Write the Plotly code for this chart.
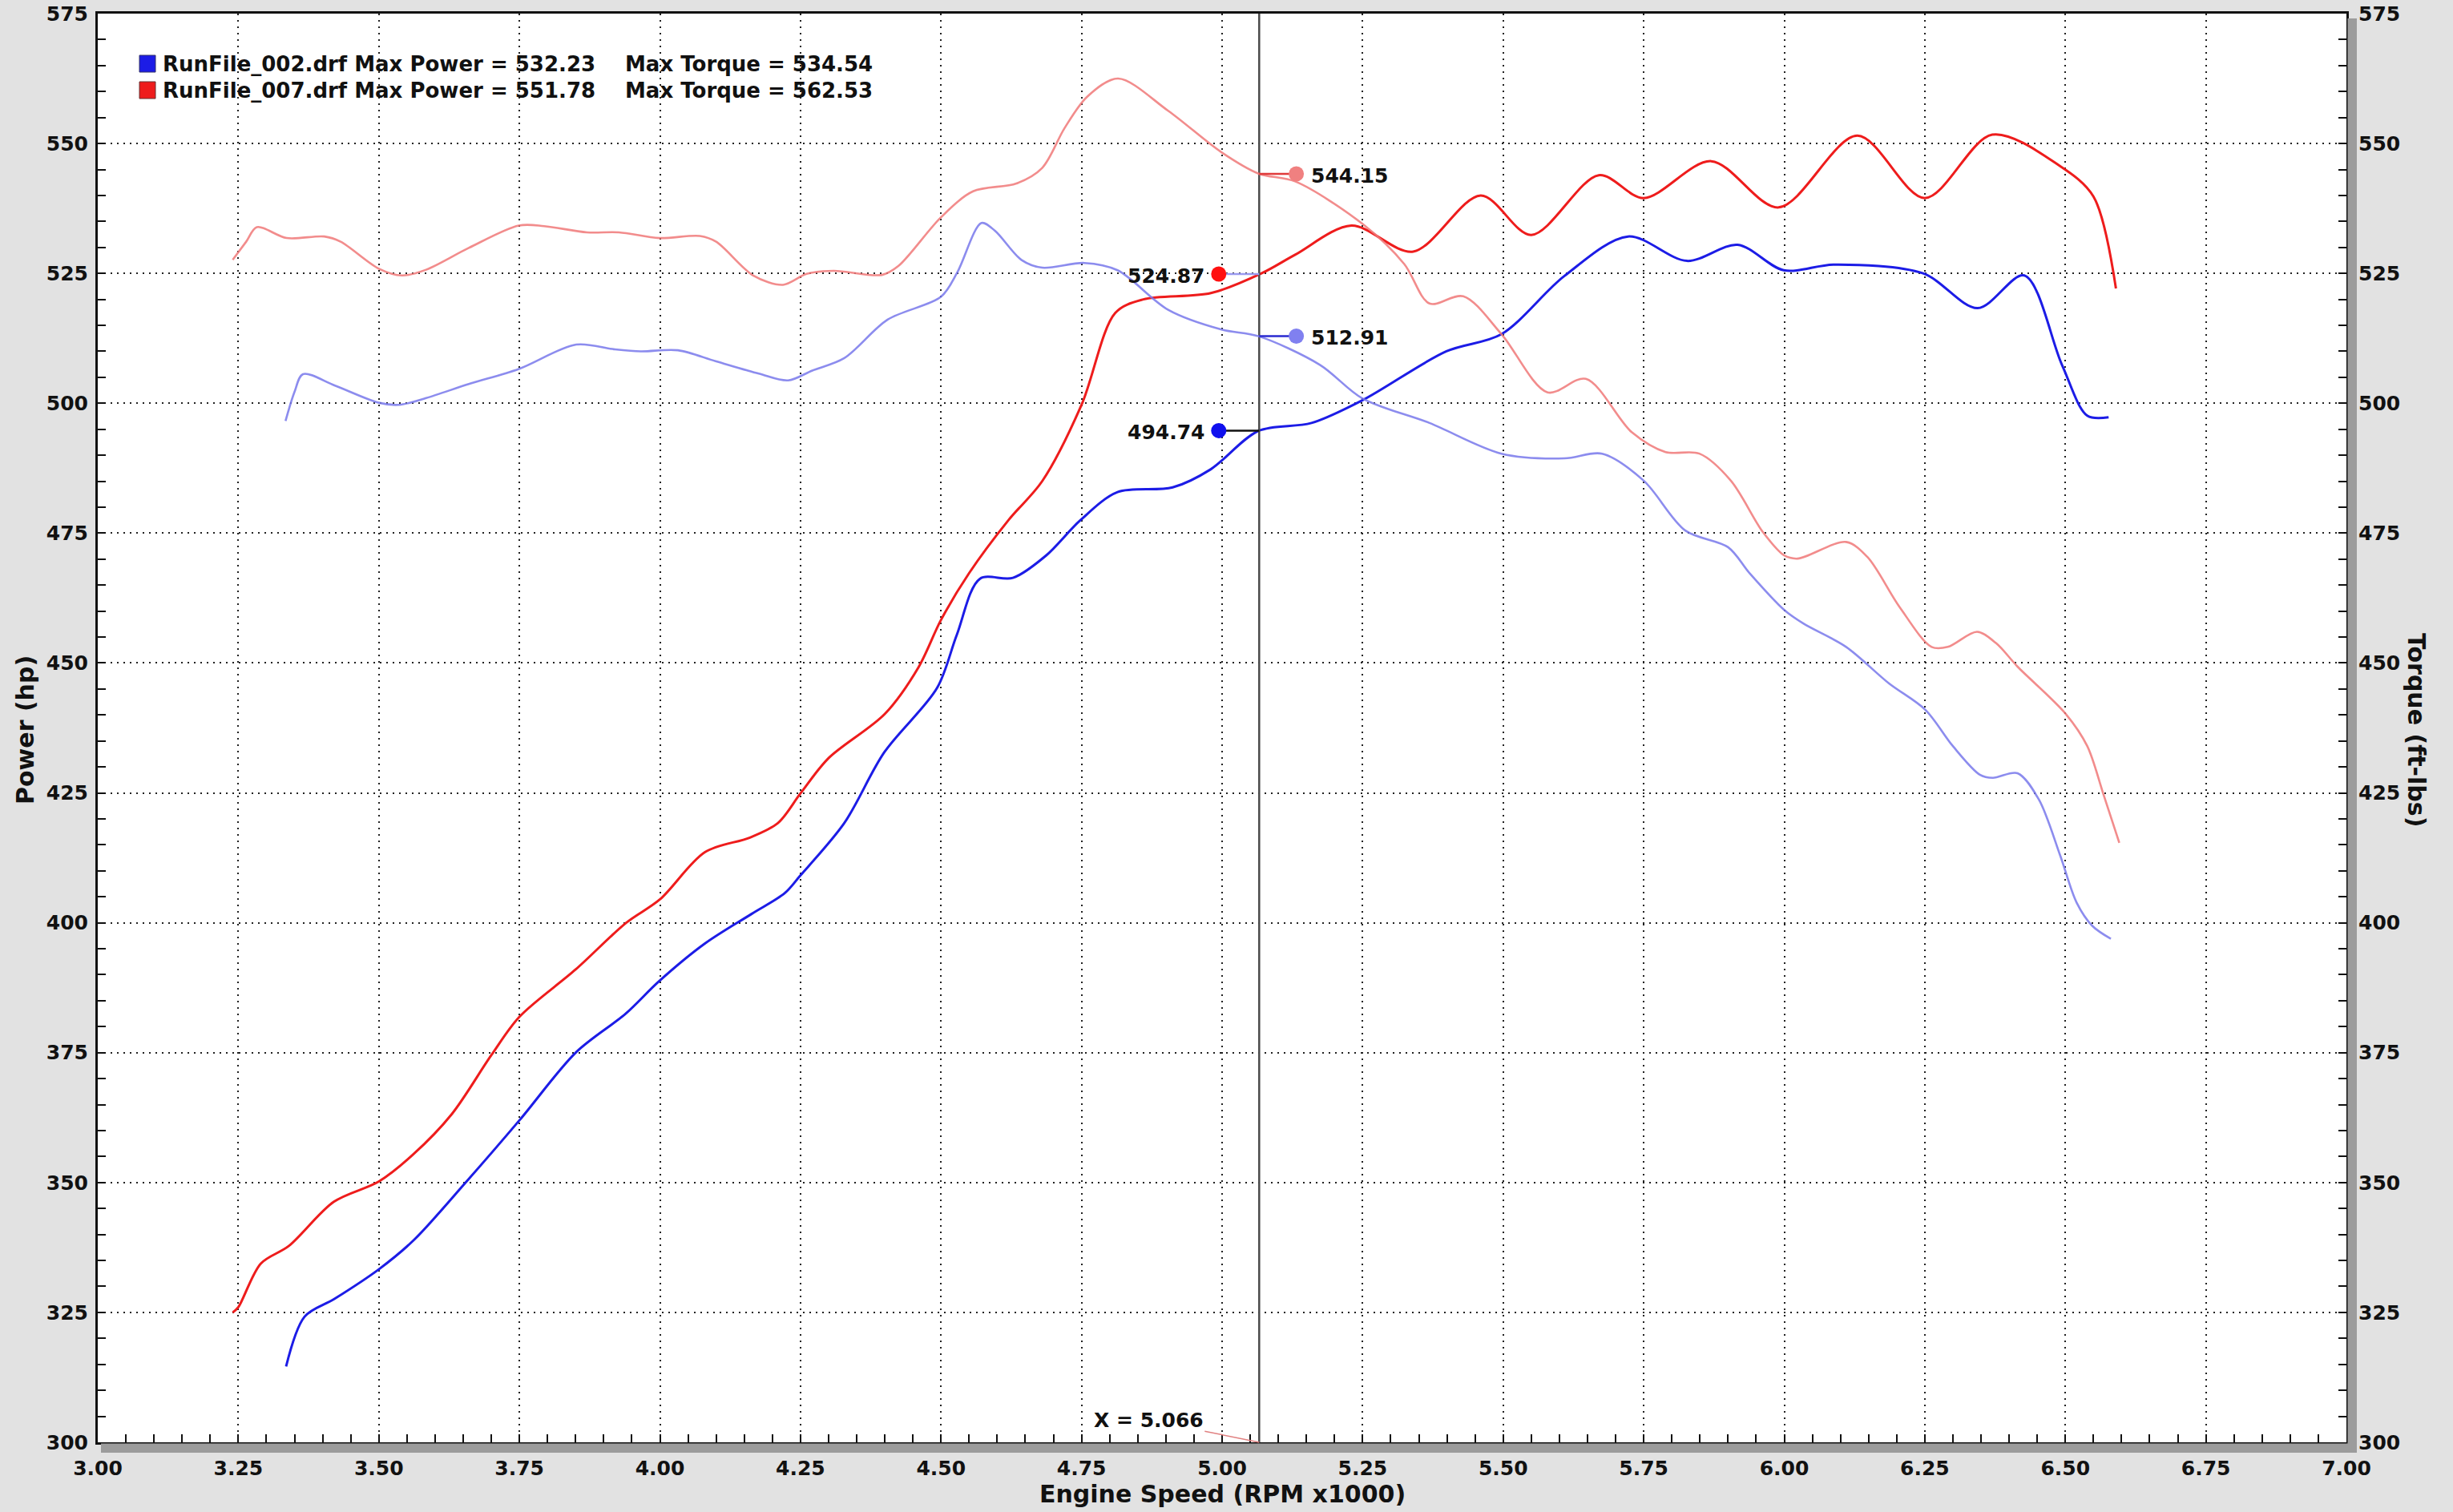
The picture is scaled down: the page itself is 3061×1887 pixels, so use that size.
import plotly.graph_objects as go

# ---------------- data ----------------
# RunFile_007 power (hp)
rpm_p007 = [3.24, 3.25, 3.29, 3.34, 3.42, 3.50, 3.56, 3.63, 3.70, 3.75, 3.85, 3.94, 4.00, 4.08,
            4.16, 4.21, 4.25, 4.30, 4.40, 4.46, 4.50, 4.55, 4.62, 4.68, 4.75, 4.81, 4.86, 4.98,
            5.07, 5.13, 5.23, 5.34, 5.46, 5.55, 5.67, 5.75, 5.87, 5.99, 6.13, 6.25, 6.37, 6.49,
            6.55, 6.59]
hp_007 = [325.0, 326.0, 334.4, 337.8, 346.3, 350.2, 355.3, 363.2, 374.5, 381.9, 391.0, 400.0,
          404.5, 413.6, 416.4, 419.2, 424.9, 431.7, 440.2, 449.2, 458.3, 467.3, 477.5, 485.0,
          499.7, 517.4, 520.0, 521.2, 525.0, 528.6, 534.2, 529.2, 540.0, 532.4, 543.9, 539.5,
          546.6, 537.7, 551.5, 539.5, 551.7, 545.7, 539.8, 522.1]

# RunFile_002 power (hp)
rpm_p002 = [3.335, 3.368, 3.421, 3.50, 3.562, 3.656, 3.751, 3.851, 3.939, 3.998, 4.08, 4.163,
            4.222, 4.249, 4.328, 4.399, 4.493, 4.528, 4.569, 4.628, 4.687, 4.748, 4.814, 4.912,
            4.98, 5.065, 5.159, 5.25, 5.399, 5.497, 5.609, 5.722, 5.827, 5.917, 5.999, 6.089,
            6.247, 6.344, 6.427, 6.494, 6.539, 6.577]
hp_002 = [314.6, 324.2, 327.6, 333.3, 338.9, 350.2, 362.1, 375.1, 382.5, 388.7, 396.0, 401.7,
          405.7, 409.0, 419.2, 432.8, 445.2, 455.4, 466.2, 466.4, 470.7, 477.5, 482.9, 483.8,
          487.3, 494.7, 496.2, 500.6, 510.0, 513.3, 524.5, 532.1, 527.4, 530.5, 525.6, 526.7,
          525.0, 518.3, 524.6, 507.4, 497.6, 497.3]

# RunFile_007 torque (ft-lbs)
rpm_t007 = [3.24, 3.264, 3.283, 3.336, 3.403, 3.432, 3.50, 3.541, 3.584, 3.66, 3.749, 3.794,
            3.87, 3.927, 3.999, 4.071, 4.10, 4.166, 4.219, 4.261, 4.309, 4.395, 4.424, 4.50,
            4.557, 4.634, 4.68, 4.72, 4.76, 4.815, 4.904, 4.999, 5.065, 5.13, 5.25, 5.324,
            5.369, 5.429, 5.497, 5.579, 5.647, 5.729, 5.789, 5.849, 5.905, 5.962, 6.0, 6.024,
            6.11, 6.148, 6.205, 6.262, 6.291, 6.343, 6.377, 6.415, 6.5, 6.539, 6.567, 6.596]
tq_007 = [527.6, 531.1, 533.9, 531.8, 532.1, 531.1, 525.9, 524.6, 525.7, 529.9, 534.2, 534.1,
          532.9, 532.9, 531.8, 532.2, 531.1, 524.6, 522.8, 524.9, 525.5, 524.7, 526.4, 535.8,
          540.8, 542.3, 545.3, 553.0, 559.0, 562.5, 556.3, 548.3, 544.2, 542.7, 534.5, 526.8,
          519.2, 520.6, 513.3, 502.1, 504.7, 494.4, 490.6, 490.3, 485.1, 475.2, 470.7, 470.1,
          473.3, 470.4, 460.8, 453.1, 453.1, 456.0, 453.8, 449.3, 440.3, 434.0, 425.0, 415.4]

# RunFile_002 torque (ft-lbs)
rpm_t002 = [3.334, 3.35, 3.365, 3.422, 3.50, 3.536, 3.584, 3.66, 3.749, 3.851, 3.918, 3.966,
            4.032, 4.099, 4.176, 4.228, 4.271, 4.328, 4.405, 4.50, 4.529, 4.572, 4.596, 4.643,
            4.68, 4.755, 4.814, 4.904, 4.999, 5.065, 5.174, 5.25, 5.369, 5.497, 5.609, 5.676,
            5.75, 5.824, 5.9, 5.939, 6.0, 6.034, 6.11, 6.186, 6.251, 6.30, 6.348, 6.371, 6.415,
            6.453, 6.491, 6.52, 6.548, 6.581]
tq_002 = [496.6, 502.2, 505.6, 503.4, 500.1, 499.7, 501.0, 503.7, 506.6, 511.3, 510.4, 510.0,
          510.2, 508.1, 505.7, 504.4, 506.3, 508.7, 516.1, 520.5, 525.2, 534.7, 533.2, 527.6,
          526.1, 527.0, 525.6, 518.0, 514.2, 512.9, 507.4, 500.9, 496.2, 490.3, 489.4, 490.3,
          485.1, 475.5, 472.3, 467.2, 460.2, 457.6, 453.1, 446.1, 441.0, 434.0, 428.5, 427.9,
          428.8, 423.7, 412.9, 403.9, 399.4, 396.9]

# cursor readouts
cursor_rpm = 5.066
readout_values = [544.15, 524.87, 512.91, 494.74]   # 007 torque, 007 power, 002 torque, 002 power

# legend texts
legend_files = ["RunFile_002.drf", "RunFile_007.drf"]
legend_max_power = [532.23, 551.78]
legend_max_torque = [534.54, 562.53]

# ticks
x_ticks = [3.00, 3.25, 3.50, 3.75, 4.00, 4.25, 4.50, 4.75, 5.00, 5.25, 5.50, 5.75, 6.00,
           6.25, 6.50, 6.75, 7.00]
y_ticks = [300, 325, 350, 375, 400, 425, 450, 475, 500, 525, 550, 575]

# ---------------- style ----------------
FONT = "DejaVu Sans"
C_P007 = "#ee1c1c"
C_P002 = "#1c1ce6"
C_T007 = "rgba(240,120,120,0.85)"
C_T002 = "rgba(120,120,235,0.85)"
W, H = 3061, 1887
ML, MR, MT, MB = 122, 133, 17, 87
PW, PH = W - ML - MR, H - MT - MB

fig = go.Figure()

# torque (right axis), drawn first (lighter)
fig.add_trace(go.Scatter(x=rpm_t007, y=tq_007, yaxis="y2", mode="lines",
                         line=dict(color=C_T007, width=2.6, shape="spline", smoothing=0.9)))
fig.add_trace(go.Scatter(x=rpm_t002, y=tq_002, yaxis="y2", mode="lines",
                         line=dict(color=C_T002, width=2.6, shape="spline", smoothing=0.9)))
# power (left axis)
fig.add_trace(go.Scatter(x=rpm_p007, y=hp_007, mode="lines",
                         line=dict(color=C_P007, width=3, shape="spline", smoothing=0.9)))
fig.add_trace(go.Scatter(x=rpm_p002, y=hp_002, mode="lines",
                         line=dict(color=C_P002, width=3, shape="spline", smoothing=0.9)))

# cursor line
fig.add_trace(go.Scatter(x=[cursor_rpm, cursor_rpm], y=[y_ticks[0], y_ticks[-1]], mode="lines",
                         line=dict(color="#4a4a4a", width=2.5)))

# readouts: (dot offset in rpm, connector colour, dot colour, axis, label side)
readout_style = [
    (0.066, "#e03a3a", "#f08080", "y2", "right"),
    (-0.072, "#9a9af0", "#ff1010", "y", "left"),
    (0.066, "#2a2ad0", "#8080f0", "y2", "right"),
    (-0.072, "#111111", "#1010ee", "y", "left"),
]
for val, (dx, lc, dc, ax, side) in zip(readout_values, readout_style):
    xd = cursor_rpm + dx
    fig.add_trace(go.Scatter(x=[cursor_rpm, xd], y=[val, val], yaxis=ax, mode="lines",
                             line=dict(color=lc, width=2.5)))
    fig.add_trace(go.Scatter(x=[xd], y=[val], yaxis=ax, mode="markers",
                             marker=dict(color=dc, size=19, line=dict(width=0))))
    fig.add_annotation(x=xd, y=val, yref=ax, text=f"{val:.2f}", showarrow=False,
                       xanchor="left" if side == "right" else "right",
                       xshift=16 if side == "right" else -16, yshift=-2,
                       font=dict(family=FONT, size=25, color="#111111", weight="bold"))

# X = cursor annotation
fig.add_annotation(x=cursor_rpm, y=y_ticks[0], text=f"X = {cursor_rpm:.3f}",
                   showarrow=True, arrowhead=0, arrowwidth=1.5, arrowcolor="#e08080",
                   ax=-138, ay=-28, standoff=0,
                   font=dict(family=FONT, size=25, color="#111111", weight="bold"))

# legend (annotations + icon shapes)
for i, (fname, mp, mt, col) in enumerate(zip(legend_files, legend_max_power, legend_max_torque,
                                             [C_P002, C_P007])):
    ypix = 80 + 33 * i
    yp = (H - MB - ypix) / PH
    fig.add_annotation(xref="paper", yref="paper", x=(201 - ML) / PW, y=yp,
                       text=f"{fname} Max Power = {mp:.2f}", showarrow=False,
                       xanchor="left", yanchor="middle",
                       font=dict(family=FONT, size=26, color="#111111", weight="bold"))
    fig.add_annotation(xref="paper", yref="paper", x=(778 - ML) / PW, y=yp,
                       text=f"Max Torque = {mt:.2f}", showarrow=False,
                       xanchor="left", yanchor="middle",
                       font=dict(family=FONT, size=26, color="#111111", weight="bold"))
    fig.add_shape(type="rect", xref="paper", yref="paper",
                  x0=(174 - ML) / PW, x1=(194 - ML) / PW,
                  y0=yp - 10 / PH, y1=yp + 11 / PH,
                  fillcolor=col, line=dict(width=1, color="#333366" if i == 0 else "#663333"))

# axis titles
fig.add_annotation(xref="paper", yref="paper", x=0.5, y=-(1865 - (H - MB)) / PH,
                   text="Engine Speed (RPM x1000)", showarrow=False, yanchor="middle",
                   font=dict(family=FONT, size=30, color="#111111", weight="bold"))
fig.add_annotation(xref="paper", yref="paper", x=-(ML - 31) / PW, y=(H - MB - 911) / PH,
                   text="Power (hp)", showarrow=False, textangle=-90,
                   xanchor="center", yanchor="middle",
                   font=dict(family=FONT, size=30, color="#111111", weight="bold"))
fig.add_annotation(xref="paper", yref="paper", x=1 + (3016 - ML - PW) / PW, y=(H - MB - 911) / PH,
                   text="Torque (ft-lbs)", showarrow=False, textangle=90,
                   xanchor="center", yanchor="middle",
                   font=dict(family=FONT, size=30, color="#111111", weight="bold"))

# axis shadow bands (just outside the frame lines)
fig.add_shape(type="rect", xref="paper", yref="paper", layer="above",
              x0=4 / PW, x1=1 + 13 / PW, y0=-13 / PH, y1=-1.5 / PH,
              fillcolor="#9c9c9c", line=dict(width=0))
fig.add_shape(type="rect", xref="paper", yref="paper", layer="above",
              x0=1 + 1.5 / PW, x1=1 + 13 / PW, y0=-13 / PH, y1=1 - 6 / PH,
              fillcolor="#9c9c9c", line=dict(width=0))

tickfont = dict(family=FONT, size=25, color="#111111", weight="bold")
fig.update_layout(
    width=W, height=H,
    margin=dict(l=ML, r=MR, t=MT, b=MB, autoexpand=False),
    paper_bgcolor="#e2e2e2", plot_bgcolor="#ffffff",
    showlegend=False, hovermode=False,
    xaxis=dict(range=[3.0, 7.0], tickvals=x_ticks, tickformat=".2f", tickfont=tickfont,
               showline=True, linewidth=3, linecolor="#111111", mirror=True, automargin=False,
               ticks="inside", ticklen=10, tickwidth=2, tickcolor="#111111",
               minor=dict(dtick=0.05, ticks="inside", ticklen=10, tickwidth=2, tickcolor="#111111",
                          showgrid=False),
               showgrid=True, gridcolor="#222222", gridwidth=2, griddash="2px,6px",
               zeroline=False, ticklabelstandoff=8),
    yaxis=dict(range=[300, 575], tickvals=y_ticks, tickfont=tickfont, automargin=False,
               showline=True, linewidth=3, linecolor="#111111",
               ticks="inside", ticklen=10, tickwidth=2, tickcolor="#111111",
               minor=dict(dtick=5, ticks="inside", ticklen=10, tickwidth=2, tickcolor="#111111",
                          showgrid=False),
               showgrid=True, gridcolor="#222222", gridwidth=2, griddash="2px,6px",
               zeroline=False, ticklabelstandoff=4),
    yaxis2=dict(range=[300, 575], tickvals=y_ticks, tickfont=tickfont, overlaying="y", side="right",
                showline=True, linewidth=3, linecolor="#111111", automargin=False,
                ticks="inside", ticklen=10, tickwidth=2, tickcolor="#111111",
                minor=dict(dtick=5, ticks="inside", ticklen=10, tickwidth=2, tickcolor="#111111",
                           showgrid=False),
                showgrid=False, zeroline=False, ticklabelstandoff=7),
)

fig.write_html("out.html", config={"displayModeBar": False},
               post_script="document.body.style.margin='0';"
                           "document.body.style.background='#e2e2e2';")
